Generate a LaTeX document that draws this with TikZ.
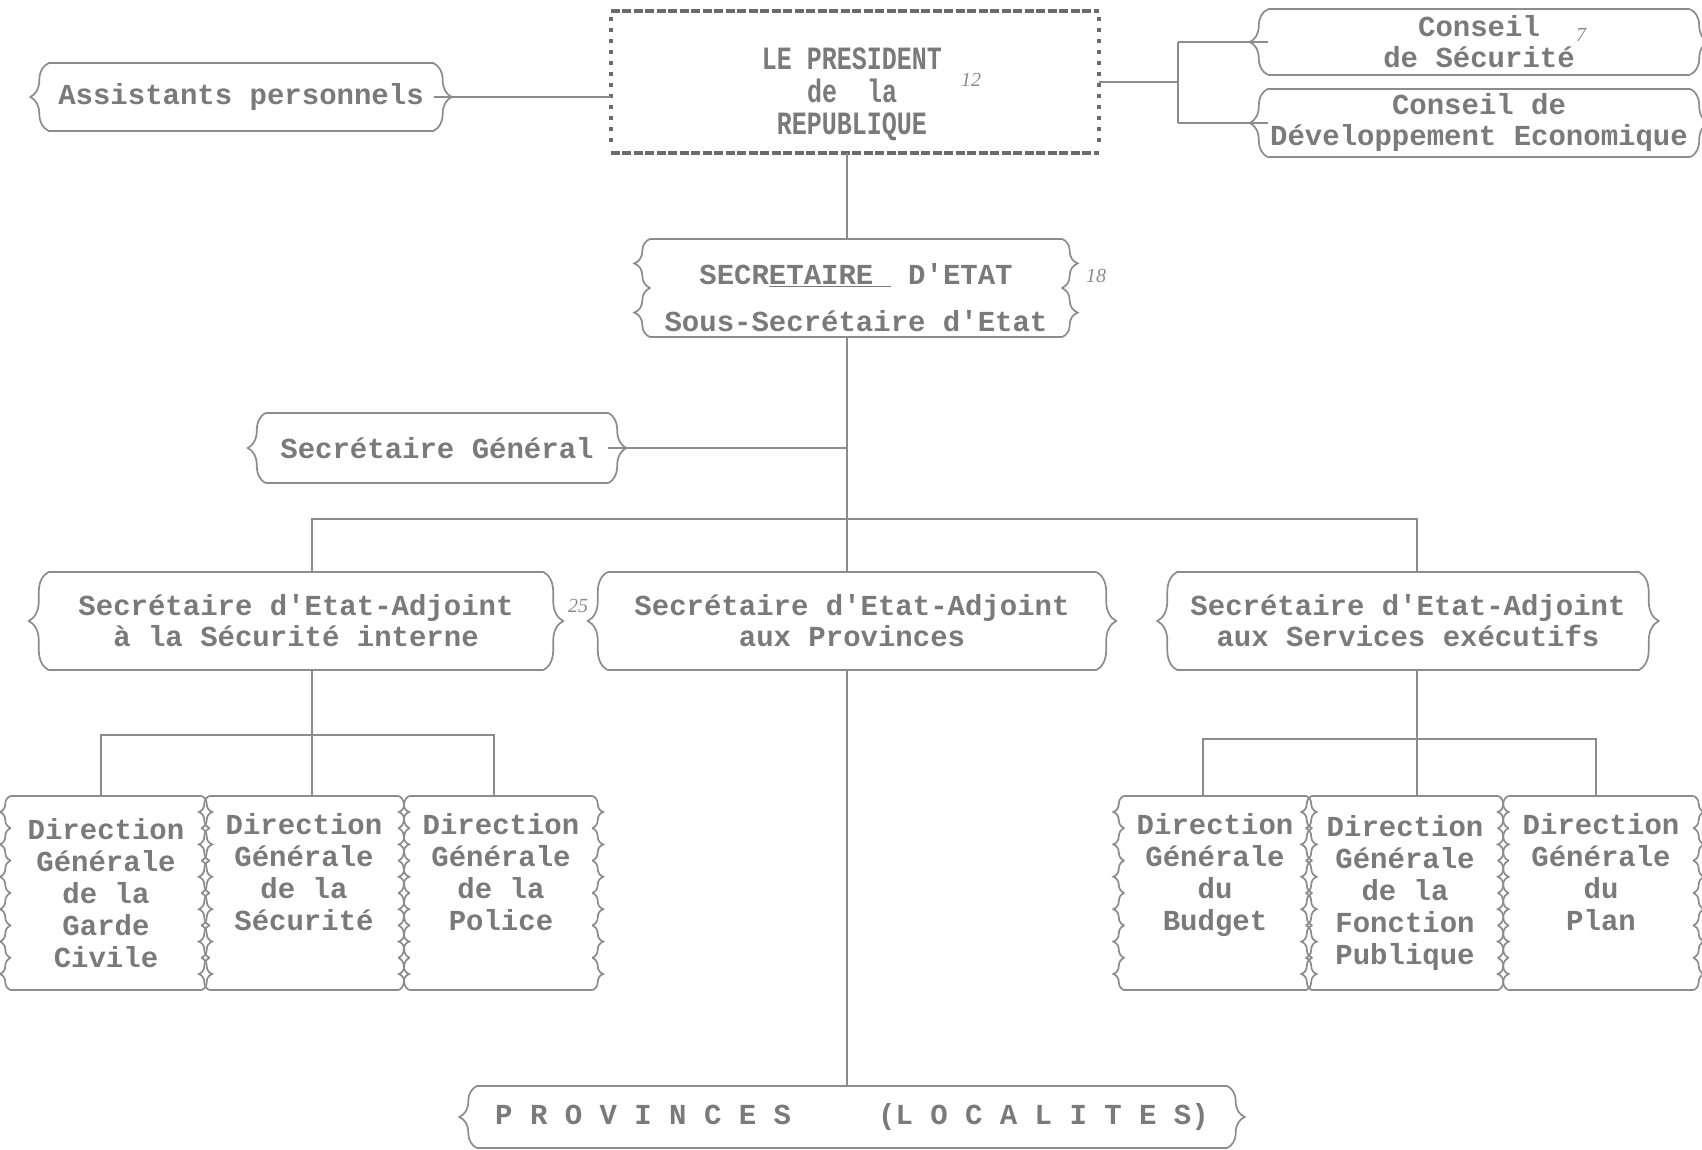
\documentclass[tikz,border=0pt]{standalone}
\usepackage{fontspec}
\setmonofont{Liberation Mono}
\newfontfamily\handfont{Liberation Serif}
\usetikzlibrary{decorations.pathreplacing,calc}
\definecolor{ink}{gray}{0.48}
\definecolor{lineclr}{gray}{0.55}
\definecolor{darkline}{gray}{0.42}
\newcommand{\tframe}[3]{%
  \draw[frm] (#1.north west) -- (#1.north east);
  \draw[frm] (#1.south west) -- (#1.south east);
  \foreach \k in {1,...,#2}{%
    \draw[frm, decorate, decoration={brace, amplitude=#3}]
      ($(#1.south west)!{(\k-1)/#2}!(#1.north west)$) -- ($(#1.south west)!{\k/#2}!(#1.north west)$);
    \draw[frm, decorate, decoration={brace, amplitude=#3}]
      ($(#1.north east)!{(\k-1)/#2}!(#1.south east)$) -- ($(#1.north east)!{\k/#2}!(#1.south east)$);
  }%
}
\begin{document}
\begin{tikzpicture}[x=1pt,y=-1pt,
  box/.style={rectangle, inner sep=0pt, minimum width=#1, align=center, text=ink,
    font=\ttfamily\bfseries\fontsize{29}{31}\selectfont},
  dbox/.style={box=#1, minimum height=194pt, font=\ttfamily\bfseries\fontsize{29}{32}\selectfont},
  txt/.style={inner sep=0pt, align=center, text=ink},
  frm/.style={draw=lineclr, line width=1.7pt},
  conn/.style={draw=lineclr, line width=1.8pt},
  ptop/.style={draw=darkline, line width=4pt, dash pattern=on 9pt off 2.5pt},
  pside/.style={draw=darkline, line width=4pt, dash pattern=on 4pt off 7pt},
  hand/.style={text=black!45, font=\handfont\itshape\fontsize{20}{20}\selectfont}]
\fill[white] (0,0) rectangle (1702,1150);
\useasboundingbox (0,0) rectangle (1702,1150);

% boxes
\node[box=488pt, minimum height=141pt] (pres) at (855,82) {};
\node[txt, font=\ttfamily\bfseries\fontsize{25}{24.5}\selectfont] (prestxt) at (852,96)
  {\scalebox{1}[1.3]{\begin{tabular}{@{}c@{}}LE PRESIDENT\\de\ \ la\\REPUBLIQUE\end{tabular}}};
\node[box=385pt, minimum height=67pt] (assist) at (241,97) {Assistants personnels};
\node[box=422pt, minimum height=65pt] (cs) at (1479,42) {Conseil\\de Sécurité};
\node[box=422pt, minimum height=68pt] (cde) at (1479,123) {Conseil de\\Développement Economique};
\node[box=411pt, minimum height=98pt] (sde) at (856,288) {};
\node[txt, font=\ttfamily\bfseries\fontsize{29}{47}\selectfont] (sdetxt) at (856,298)
  {SECR\underline{ETAIRE\ }\ D'ETAT\\Sous-Secrétaire d'Etat};
\node[box=342pt, minimum height=70pt] (sg) at (437,448) {Secrétaire Général};
\node[box=494pt, minimum height=98pt] (sea1) at (296,621) {Secrétaire d'Etat-Adjoint\\à la Sécurité interne};
\node[box=488pt, minimum height=98pt] (sea2) at (852,621) {Secrétaire d'Etat-Adjoint\\aux Provinces};
\node[box=461pt, minimum height=98pt] (sea3) at (1408,621) {Secrétaire d'Etat-Adjoint\\aux Services exécutifs};
\node[dbox=190pt] (d1) at (106,893) {Direction\\Générale\\de la\\Garde\\Civile};
\node[dbox=188pt] (d2) at (304,893) {Direction\\Générale\\de la\\Sécurité\\\strut};
\node[dbox=182pt] (d3) at (501,893) {Direction\\Générale\\de la\\Police\\\strut};
\node[dbox=181pt] (d4) at (1215,893) {Direction\\Générale\\du\\Budget\\\strut};
\node[dbox=185pt] (d5) at (1405,893) {Direction\\Générale\\de la\\Fonction\\Publique};
\node[dbox=184pt] (d6) at (1601,893) {Direction\\Générale\\du\\Plan\\\strut};
\node[box=749pt, minimum height=62pt] (prov) at (852,1117) {P R O V I N C E S\ \ \ \ \ (L O C A L I T E S)};

% frames
\draw[ptop] (pres.north west) -- (pres.north east);
\draw[ptop] (pres.south west) -- (pres.south east);
\draw[pside] ([yshift=-6pt]pres.north west) -- ([yshift=6pt]pres.south west);
\draw[pside] ([yshift=-6pt]pres.north east) -- ([yshift=6pt]pres.south east);
\tframe{assist}{1}{18pt}
\tframe{cs}{1}{18pt}
\tframe{cde}{1}{18pt}
\tframe{sde}{2}{16pt}
\tframe{sg}{1}{18pt}
\tframe{sea1}{1}{20pt}
\tframe{sea2}{1}{20pt}
\tframe{sea3}{1}{20pt}
\tframe{d1}{6}{11pt}
\tframe{d2}{6}{11pt}
\tframe{d3}{6}{11pt}
\tframe{d4}{6}{11pt}
\tframe{d5}{6}{11pt}
\tframe{d6}{6}{11pt}
\tframe{prov}{1}{18pt}

% helper coordinates
\coordinate (spine) at (847,0);
\coordinate (brk) at (1178,0);
\coordinate (s1) at (312,0);
\coordinate (s3) at (1417,0);
\coordinate (bus) at (0,519);
\coordinate (l1) at (101,0);
\coordinate (l3) at (494,0);
\coordinate (lb) at (0,735);
\coordinate (r1) at (1203,0);
\coordinate (r3) at (1596,0);
\coordinate (rb) at (0,739);

% connectors
\draw[conn] (assist.east) -- (assist.east -| pres.west);
\draw[conn] (pres.east) -- (pres.east -| brk);
\draw[conn] (cs.west -| brk) -- (cde.west -| brk);
\draw[conn] (cs.west -| brk) -- (cs.west);
\draw[conn] (cde.west -| brk) -- (cde.west);
\draw[conn] (pres.south -| spine) -- (sde.north -| spine);
\draw[conn] (sde.south -| spine) -- (sea2.north -| spine);
\draw[conn] (sg.east) -- (sg.east -| spine);
\draw[conn] (sea1.north -| s1) -- (s1 |- bus) -- (s3 |- bus) -- (sea3.north -| s3);
\draw[conn] (sea2.south -| spine) -- (prov.north -| spine);
\draw[conn] (sea1.south -| s1) -- (d2.north -| s1);
\draw[conn] (d1.north -| l1) -- (l1 |- lb) -- (l3 |- lb) -- (d3.north -| l3);
\draw[conn] (sea3.south -| s3) -- (d5.north -| s3);
\draw[conn] (d4.north -| r1) -- (r1 |- rb) -- (r3 |- rb) -- (d6.north -| r3);

% pencil annotations
\node[hand] (n12) at (971,80) {12};
\node[hand] (n7) at (1581,35) {7};
\node[hand] (n18) at (1096,276) {18};
\node[hand] (n25) at (578,606) {25};
\end{tikzpicture}
\end{document}
